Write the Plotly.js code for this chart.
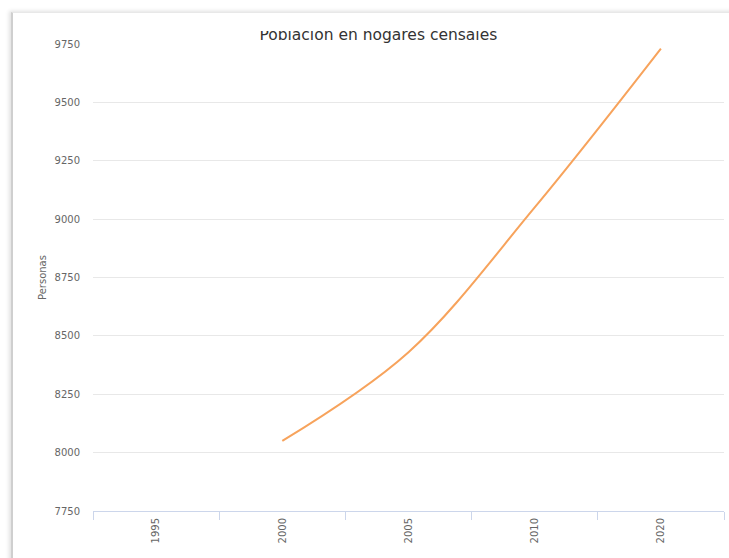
<!DOCTYPE html>
<html>
<head>
<meta charset="utf-8">
<script src="https://cdn.plot.ly/plotly-3.0.1.min.js"></script>
<style>
  html, body { margin: 0; padding: 0; width: 729px; height: 558px; overflow: hidden; background: #ffffff; }
  #card { position: absolute; left: 11px; top: 12px; width: 800px; height: 700px;
          background: #ffffff; border-left: 2px solid #cfcfcf; border-top: 1px solid #e8e8e8;
          box-shadow: -2px -1px 4px rgba(0,0,0,0.12); }
  #chart { position: absolute; left: 0; top: 0; width: 729px; height: 558px; }
  #clip { position: absolute; left: 200px; top: 14px; width: 360px; height: 17px; background: #ffffff; }
</style>
</head>
<body>
<div id="card"></div>
<div id="chart"></div>
<div id="clip"></div>
<script>
const years = ['1995', '2000', '2005', '2010', '2020'];
const personas = [null, 8050, 8430, 9050, 9730];
const yTicks = [7750, 8000, 8250, 8500, 8750, 9000, 9250, 9500, 9750];
const titleText = 'Población en hogares censales';
const yTitle = 'Personas';

const trace = {
  x: years,
  y: personas,
  type: 'scatter',
  mode: 'lines',
  line: { color: '#f7a35c', width: 2, shape: 'spline', smoothing: 1 },
  connectgaps: false,
  hoverinfo: 'x+y'
};

const layout = {
  width: 729,
  height: 558,
  margin: { l: 93, r: 5, t: 44, b: 47, pad: 0 },
  paper_bgcolor: 'rgba(0,0,0,0)',
  plot_bgcolor: 'rgba(0,0,0,0)',
  showlegend: false,
  font: { family: 'DejaVu Sans, sans-serif', color: '#666666', size: 10 },
  title: {
    text: titleText,
    font: { family: 'DejaVu Sans, sans-serif', size: 15.5, color: '#333333' },
    x: 0.519, xanchor: 'center',
    yref: 'container', y: 1 - 35 / 558, yanchor: 'middle'
  },
  xaxis: {
    type: 'category',
    categoryorder: 'array',
    categoryarray: years,
    showgrid: false,
    zeroline: false,
    showline: true,
    linecolor: '#ccd6eb',
    linewidth: 1,
    ticks: 'outside',
    tickson: 'boundaries',
    ticklen: 8,
    tickcolor: '#ccd6eb',
    tickangle: -90,
    ticklabelstandoff: 2,
    tickfont: { size: 10, color: '#666666' },
    range: [-0.5, 4.5]
  },
  yaxis: {
    range: [7750, 9750],
    tickvals: yTicks,
    ticktext: yTicks.map(String),
    showgrid: true,
    gridcolor: '#e8e8e8',
    gridwidth: 1,
    zeroline: false,
    showline: false,
    ticks: '',
    ticklabelstandoff: 12,
    tickfont: { size: 10, color: '#666666' },
    title: { text: yTitle, font: { size: 10, color: '#666666' }, standoff: 6 }
  }
};

Plotly.newPlot('chart', [trace], layout, { displayModeBar: false, staticPlot: true });
</script>
</body>
</html>
